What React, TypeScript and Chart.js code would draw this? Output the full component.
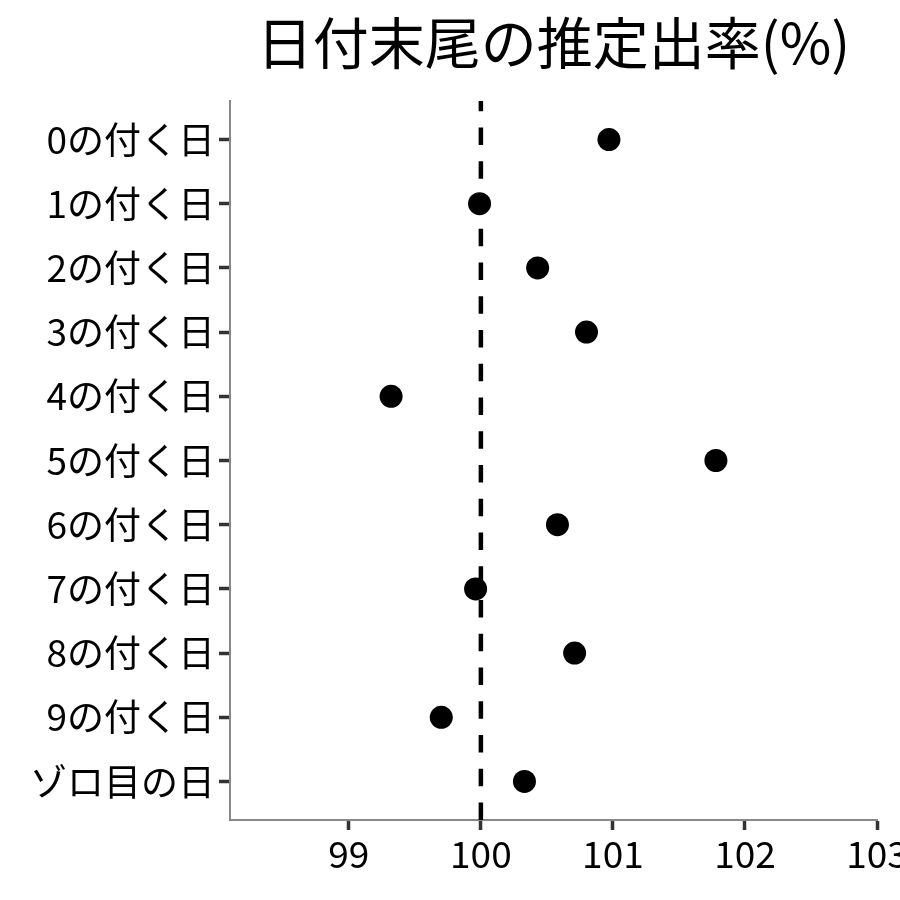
import React, { useEffect, useRef } from 'react';
import { Chart, registerables } from 'chart.js';

Chart.register(...registerables);

const titleText = '日付末尾の推定出率(%)';
const categories = [
  '0の付く日',
  '1の付く日',
  '2の付く日',
  '3の付く日',
  '4の付く日',
  '5の付く日',
  '6の付く日',
  '7の付く日',
  '8の付く日',
  '9の付く日',
  'ゾロ目の日',
];
const rates = [100.97, 99.99, 100.43, 100.8, 99.32, 101.78, 100.58, 99.96, 100.71, 99.7, 100.33];
const xTickValues = [99, 100, 101, 102, 103];
const referenceValue = 100;

const FONT = '"Noto Sans CJK JP", "Noto Sans", sans-serif';

export default function App() {
  const ref = useRef<HTMLCanvasElement | null>(null);

  useEffect(() => {
    document.body.style.margin = '0';
    const canvas = ref.current;
    if (!canvas) return;
    const yMin = -0.6;
    const yMax = categories.length - 1 + 0.6;
    const chart = new Chart(canvas, {
      type: 'scatter',
      data: {
        datasets: [
          {
            label: 'rate',
            data: categories.map((_, i) => ({ x: rates[i], y: i })),
            backgroundColor: '#000',
            borderColor: '#000',
            borderWidth: 0,
            pointRadius: 11.5,
            pointHoverRadius: 11.5,
            order: 1,
          },
          {
            label: 'ref',
            data: [
              { x: referenceValue, y: yMax },
              { x: referenceValue, y: yMin },
            ],
            showLine: true,
            borderColor: '#000',
            borderWidth: 4.5,
            borderDash: [17.5, 16.25],
            borderCapStyle: 'butt',
            pointRadius: 0,
            fill: false,
            order: 2,
          } as any,
        ],
      },
      options: {
        animation: false,
        responsive: false,
        devicePixelRatio: 1,
        layout: { padding: { left: 0, right: 23, top: 0, bottom: 0 } },
        plugins: {
          legend: { display: false },
          tooltip: { enabled: false },
          title: {
            display: true,
            text: titleText,
            fullSize: false,
            color: '#000',
            font: { family: FONT, size: 56, weight: 'normal' },
            padding: { top: 9, bottom: 24.8 },
          },
        },
        scales: {
          x: {
            type: 'linear',
            min: 98.1,
            max: 103,
            afterBuildTicks: (s: any) => {
              s.ticks = xTickValues.map((v) => ({ value: v }));
            },
            ticks: {
              stepSize: 1,
              includeBounds: false,
              color: '#000',
              padding: 2,
              maxRotation: 0,
              font: { family: FONT, size: 37 },
            },
            grid: {
              display: true,
              drawOnChartArea: false,
              drawTicks: true,
              tickLength: 10,
              tickColor: '#333',
              tickWidth: 3.5,
            },
            border: { display: true, color: '#888', width: 2 },
            afterFit: (s: any) => {
              s.paddingLeft = 0;
              s.paddingRight = 0;
              s.height = 80;
            },
          },
          y: {
            type: 'linear',
            reverse: true,
            min: yMin,
            max: yMax,
            ticks: {
              stepSize: 1,
              includeBounds: false,
              autoSkip: false,
              color: '#000',
              padding: 4,
              font: { family: FONT, size: 37 },
              callback: (v: any) => categories[Number(v)] ?? '',
            },
            grid: {
              display: true,
              drawOnChartArea: false,
              drawTicks: true,
              tickLength: 11,
              tickColor: '#333',
              tickWidth: 3.5,
            },
            border: { display: true, color: '#888', width: 2 },
            afterFit: (s: any) => {
              s.width = 230;
              s.paddingTop = 0;
              s.paddingBottom = 0;
            },
          },
        },
      },
    } as any);
    return () => chart.destroy();
  }, []);

  return (
    <div style={{ width: 900, height: 900 }}>
      <canvas ref={ref} width={900} height={900} style={{ display: 'block' }} />
    </div>
  );
}
